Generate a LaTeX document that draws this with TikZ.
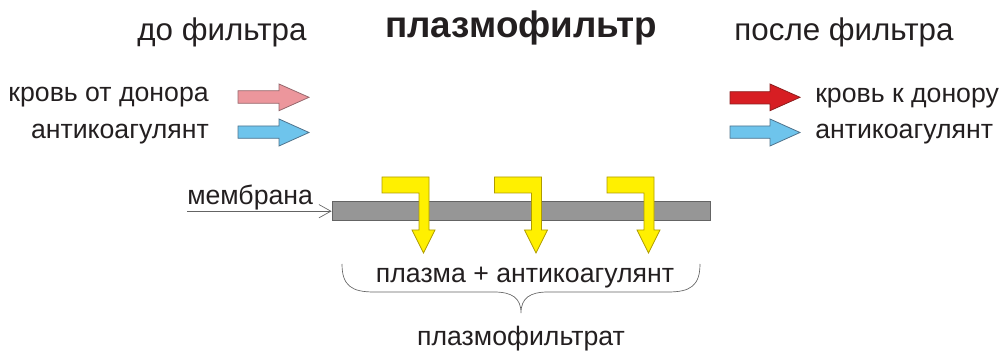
\documentclass[tikz,border=0pt]{standalone}
\usepackage{fontspec}
\setmainfont{Liberation Sans}
\usetikzlibrary{arrows.meta}
\definecolor{txt}{RGB}{35,31,32}
\definecolor{pinkfill}{RGB}{236,150,156}
\definecolor{pinkline}{RGB}{150,105,110}
\definecolor{bluefill}{RGB}{110,196,236}
\definecolor{blueline}{RGB}{80,115,140}
\definecolor{redfill}{RGB}{215,30,35}
\definecolor{redline}{RGB}{140,30,30}
\definecolor{yelfill}{RGB}{255,240,0}
\definecolor{yelline}{RGB}{175,155,0}
\definecolor{memfill}{RGB}{150,150,150}
\definecolor{memline}{RGB}{100,100,100}
\tikzset{
  lbl/.style={inner sep=0pt, text=txt, font=\fontsize{20}{24}\selectfont},
  head/.style={inner sep=0pt, text=txt, anchor=base, font=\fontsize{23.5}{28}\selectfont},
  bighead/.style={inner sep=0pt, text=txt, anchor=base, font=\fontsize{27.6}{32}\selectfont\bfseries},
  blockarrow/.style={line width=0.6pt, line join=miter},
  yelarrow/.style={fill=yelfill, draw=yelline, line width=0.6pt},
  membrane/.style={rectangle, fill=memfill, draw=memline, line width=0.6pt, minimum width=283.5pt, minimum height=14.25pt, inner sep=0pt},
  thinline/.style={draw=memline, line width=0.5pt},
}
\begin{document}
\begin{tikzpicture}[x=0.75pt, y=-0.75pt]
\useasboundingbox (0,0) rectangle (1001,352);
% headings
\node[head] (before) at (222,41) {до фильтра};
\node[bighead] (title) at (521,38) {плазмофильтр};
\node[head] (after) at (844,41) {после фильтра};
% left labels
\node[lbl, anchor=base east] (bloodin) at (209,101.7) {кровь от донора};
\node[lbl, anchor=base east] (acin) at (209,138.3) {антикоагулянт};
% right labels
\node[lbl, anchor=base west] (bloodout) at (815,103) {кровь к донору};
\node[lbl, anchor=base west] (acout) at (815,138.3) {антикоагулянт};
% block arrows left
\draw[blockarrow, fill=pinkfill, draw=pinkline] (238,90.7) -- (279,90.7) -- (279,84) -- (309,97.3) -- (279,110.7) -- (279,103.3) -- (238,103.3) -- cycle;
\draw[blockarrow, fill=bluefill, draw=blueline] (238,126) -- (279,126) -- (279,119) -- (309,132.5) -- (279,146) -- (279,138.3) -- (238,138.3) -- cycle;
% block arrows right
\draw[blockarrow, fill=redfill, draw=redline] (730,91.7) -- (770,91.7) -- (770,84) -- (800,97.3) -- (770,110.7) -- (770,104) -- (730,104) -- cycle;
\draw[blockarrow, fill=bluefill, draw=blueline] (730,126) -- (770,126) -- (770,119) -- (800,132.5) -- (770,146) -- (770,138.3) -- (730,138.3) -- cycle;
% membrane
\node[membrane] (mem) at (521,211.2) {};
\node[lbl, anchor=base west] (memlbl) at (187,205) {мембрана};
\coordinate (memstart) at (187,211.2);
\draw[thinline, -{Straight Barb[length=9pt, width=10pt]}] (memstart) -- (mem.west);
% yellow arrows
\foreach \dx in {0,112.5,225}{
  \draw[yelarrow] (382+\dx,177) -- (429+\dx,177) -- (429+\dx,230) -- (435+\dx,230) -- (423.5+\dx,253) -- (412+\dx,230) -- (419+\dx,230) -- (419+\dx,193) -- (382+\dx,193) -- cycle;
}
% bottom texts
\node[lbl, anchor=base] (plasma) at (525,283) {плазма + антикоагулянт};
\node[lbl, anchor=base] (filtrate) at (521,346) {плазмофильтрат};
% brace
\draw[thinline] (342,264) .. controls (342,286) and (352,292) .. (374,292) -- (494,292) .. controls (512,292) and (521,298) .. (521,313) .. controls (521,298) and (530,292) .. (548,292) -- (668,292) .. controls (690,292) and (700,286) .. (700,264);
\end{tikzpicture}
\end{document}
